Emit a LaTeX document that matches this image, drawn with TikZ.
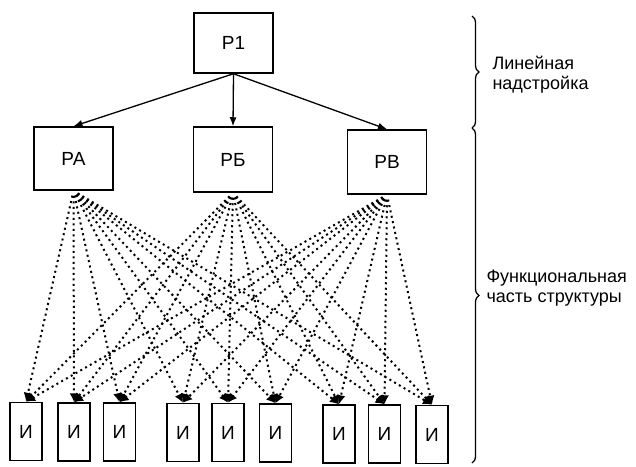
\documentclass[tikz,border=0pt]{standalone}
\usepackage{fontspec}
\setmainfont{Liberation Sans}
\usetikzlibrary{arrows.meta,decorations.pathreplacing}
\begin{document}
\begin{tikzpicture}[x=1pt,y=-1pt,
  topbox/.style={draw,line width=1.5pt,minimum width=79pt,inner sep=0pt,font=\fontsize{19}{21}\selectfont},
  ibox/.style={draw,line width=1.5pt,minimum width=32pt,minimum height=58pt,inner sep=0pt,font=\fontsize{19}{21}\selectfont},
  solidarrow/.style={line width=1.3pt,-{Latex[length=9pt,width=7pt]}},
  dotarrow/.style={line width=2pt,dash pattern=on 2pt off 3.5pt,-{Latex[length=9pt,width=9pt]},shorten <=5pt},
  bracestyle/.style={line width=1.3pt,decorate,decoration={brace,amplitude=7pt}},
  sidetext/.style={align=left,anchor=west,font=\fontsize{18}{20}\selectfont}]
\useasboundingbox (0,0) rectangle (636,466);
\node[topbox,minimum height=60pt] (p1) at (233.5,43) {Р1};
\node[topbox,minimum height=63pt] (pa) at (73.5,158.5) {РА};
\node[topbox,minimum height=65pt] (pb) at (233,159.5) {РБ};
\node[topbox,minimum height=64pt] (pv) at (387,162) {РВ};
\node[ibox] (i1) at (26,431.5) {И};
\node[ibox] (i2) at (74,432) {И};
\node[ibox] (i3) at (119.5,432) {И};
\node[ibox] (i4) at (183,432.5) {И};
\node[ibox] (i5) at (228,432.5) {И};
\node[ibox] (i6) at (275.5,433) {И};
\node[ibox] (i7) at (339,434) {И};
\node[ibox] (i8) at (384.5,434) {И};
\node[ibox] (i9) at (432,434.5) {И};
\draw[solidarrow] (p1.south) -- (pa.north);
\draw[solidarrow] (p1.south) -- (pb.north);
\draw[solidarrow] (p1.south) -- (pv.north);
\foreach \s in {pa,pb,pv}{
  \foreach \t in {i1,i2,i3,i4,i5,i6,i7,i8,i9}{
    \draw[dotarrow] (\s.south) -- (\t.north);
  }
}
\coordinate (b1) at (472,16);
\coordinate (b2) at (472,128);
\coordinate (b3) at (472,463);
\draw[bracestyle] (b1) -- (b2);
\draw[bracestyle] (b2) -- (b3);
\node[sidetext] (t1) at (489,75) {Линейная\\надстройка};
\node[sidetext] (t2) at (483,288) {Функциональная\\часть структуры};
\end{tikzpicture}
\end{document}
